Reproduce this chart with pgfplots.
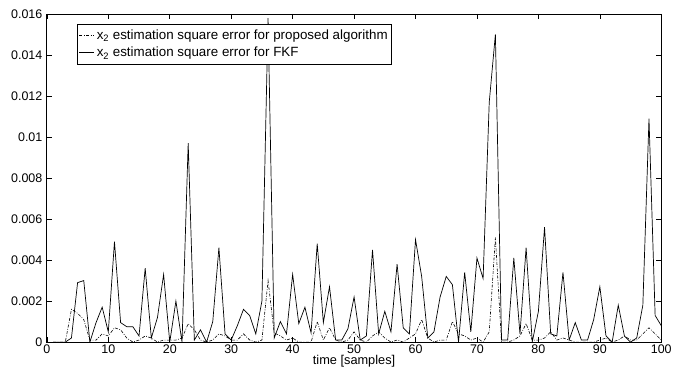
\documentclass[border=0pt]{standalone}
\usepackage{fontspec}
\setmainfont{Liberation Sans}
\usepackage{pgfplots}
\pgfplotsset{compat=1.18}
\begin{document}
\begin{tikzpicture}
\begin{axis}[
  scale only axis,
  width=616pt, height=329pt,
  xmin=0, xmax=100, ymin=0, ymax=0.016,
  xtick={0,10,...,100},
  ytick={0,0.002,...,0.016},
  scaled y ticks=false,
  /pgf/number format/assume math mode=true,
  yticklabel style={/pgf/number format/fixed, /pgf/number format/precision=3},
  tick align=inside,
  major tick length=5pt,
  tick style={black, line width=0.6pt},
  axis line style={line width=0.9pt},
  ticklabel style={font=\fontsize{12.5}{14}\selectfont},
  xticklabel style={yshift=1pt},
  yticklabel style={xshift=-1pt},
  xlabel={time [samples]},
  xlabel style={font=\fontsize{12.8}{14}\selectfont, yshift=5pt},
  legend style={at={(0.0487,0.97)}, anchor=north west, draw=black, line width=0.6pt,
    font=\fontsize{13.4}{15}\selectfont, inner xsep=2pt, inner ysep=4pt, row sep=2pt},
  legend cell align=left,
  legend image code/.code={\draw[#1] (0pt,0pt) -- (15pt,0pt);},
]
\addplot[black, line width=0.6pt, dash pattern=on 3pt off 1.5pt on 0.8pt off 1.5pt] coordinates {
(1,0)(2,0)(3,0)(4,0.0016)(5,0.0014)(6,0.0011)(7,0.0001)(8,0.0001)(9,0.0004)(10,0.0003)
(11,0.0007)(12,0.0006)(13,0.0002)(14,0)(15,0.0001)(16,0.0003)(17,0.0002)(18,0)(19,0.0001)(20,0.0001)
(21,0.0001)(22,0.0002)(23,0.0009)(24,0.0006)(25,0.0001)(26,0)(27,0.0001)(28,0.0004)(29,0.0003)(30,0.0001)
(31,0.0001)(32,0.0004)(33,0.0001)(34,0)(35,0.0001)(36,0.0030)(37,0.00045)(38,0.0003)(39,0.0001)(40,0.0002)
(41,0)(42,0)(43,0)(44,0.0010)(45,0.0001)(46,0.0007)(47,0.0001)(48,0)(49,0.0001)(50,0.0005)
(51,0.0001)(52,0)(53,0.0003)(54,0.0005)(55,0.0002)(56,0)(57,0.0001)(58,0)(59,0.0002)(60,0.0004)
(61,0.0011)(62,0.0002)(63,0)(64,0.0001)(65,0.0001)(66,0.0010)(67,0.0004)(68,0.0003)(69,0.0001)(70,0.0002)
(71,0)(72,0.0005)(73,0.0051)(74,0)(75,0)(76,0.0001)(77,0.0003)(78,0.0009)(79,0.0001)(80,0.0001)
(81,0.0002)(82,0.0005)(83,0.0001)(84,0.0002)(85,0.0001)(86,0)(87,0)(88,0)(89,0)(90,0.0001)
(91,0.0002)(92,0)(93,0.0001)(94,0.0003)(95,0.0001)(96,0.0001)(97,0.0004)(98,0.0007)(99,0.0004)(100,0.0001)
};
\addlegendentry{x\textsubscript{2} estimation square error for proposed algorithm}
\addplot[black, line width=0.7pt] coordinates {
(1,0)(2,0)(3,0)(4,0.0002)(5,0.0029)(6,0.0030)(7,0)(8,0.00095)(9,0.0017)(10,0.0005)
(11,0.0049)(12,0.00095)(13,0.00075)(14,0.00075)(15,0.0003)(16,0.0036)(17,0.0002)(18,0.0012)(19,0.0033)(20,0)
(21,0.0020)(22,0)(23,0.0097)(24,0.0001)(25,0.0006)(26,0)(27,0.0010)(28,0.0046)(29,0.0004)(30,0.0001)
(31,0.0008)(32,0.0016)(33,0.0013)(34,0.0004)(35,0.0020)(36,0.0158)(37,0.0002)(38,0.0010)(39,0.0004)(40,0.0033)
(41,0.0009)(42,0.0017)(43,0.00045)(44,0.0048)(45,0.00095)(46,0.0027)(47,0.0001)(48,0.0001)(49,0.00065)(50,0.0022)
(51,0.0001)(52,0.0003)(53,0.0045)(54,0.0004)(55,0.0015)(56,0.0005)(57,0.0038)(58,0.0007)(59,0.0004)(60,0.0050)
(61,0.0032)(62,0.0002)(63,0.0005)(64,0.0022)(65,0.0032)(66,0.0028)(67,0)(68,0.0034)(69,0.0005)(70,0.0041)
(71,0.0031)(72,0.0117)(73,0.0150)(74,0.0001)(75,0.0001)(76,0.0041)(77,0.0004)(78,0.0046)(79,0)(80,0.0015)
(81,0.0056)(82,0.0004)(83,0.0003)(84,0.0034)(85,0.0001)(86,0.00095)(87,0.0001)(88,0.0001)(89,0.0011)(90,0.0027)
(91,0.0003)(92,0)(93,0.0018)(94,0.0003)(95,0)(96,0.0002)(97,0.0018)(98,0.0109)(99,0.0013)(100,0.0008)
};
\addlegendentry{x\textsubscript{2} estimation square error for FKF}
\end{axis}
\useasboundingbox ([xshift=-47pt,yshift=-33pt]current axis.south west) rectangle ([xshift=12pt,yshift=14pt]current axis.north east);
\end{tikzpicture}
\end{document}
